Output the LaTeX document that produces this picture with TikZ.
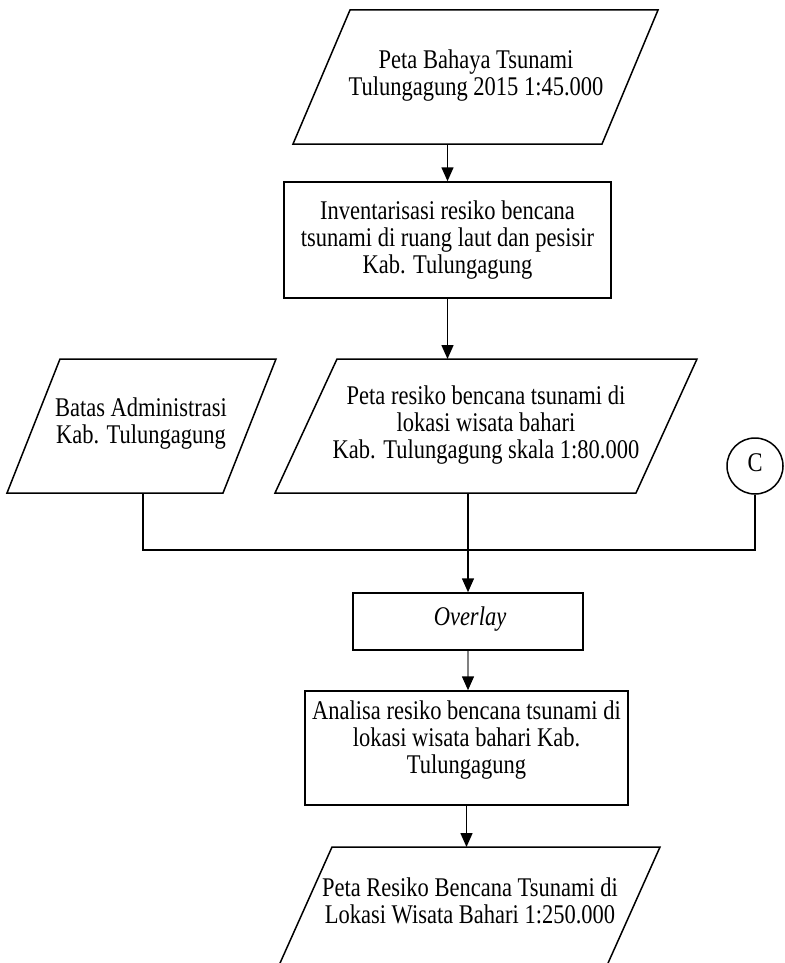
\documentclass[tikz,border=0pt]{standalone}
\usepackage{fontspec}
\usepackage{graphicx}
\setmainfont{Liberation Serif}
\usetikzlibrary{arrows.meta}
\newcommand{\stretchtext}[1]{\scalebox{1}[1.2]{\begin{tabular}{@{}c@{}}#1\end{tabular}}}
\begin{document}
\begin{tikzpicture}[x=1pt,y=-1pt,
  every node/.style={font=\fontsize{22.5}{22.5}\selectfont, align=center, inner sep=0pt},
  shapeline/.style={draw=black, line width=1.5pt, line join=miter},
  boxnode/.style={draw=black, line width=1.5pt, rectangle},
  conn/.style={draw=black, line width=1.5pt},
  arr/.style={conn, -{Triangle[length=14pt,width=12pt,color=black]}},
]
\fill[white] (0,0) rectangle (784,963);
\useasboundingbox (0,0) rectangle (784,963);

% top input
\draw[shapeline] (350,10) -- (658,10) -- (602,144) -- (293,144) -- cycle;
\node (tx1) at (476,77) {\stretchtext{Peta Bahaya Tsunami\\Tulungagung 2015 1:45.000}};
\coordinate (p1b) at (447.5,144);

% inventarisasi
\node[boxnode, minimum width=327pt, minimum height=116pt] (inv) at (447.5,240) {};
\node (tx2) at (447.5,241) {\stretchtext{Inventarisasi resiko bencana\\tsunami di ruang laut dan pesisir\\Kab. Tulungagung}};
\draw[arr] (p1b) -- (inv.north);

% peta resiko
\draw[shapeline] (337,359) -- (697,359) -- (636,493) -- (275,493) -- cycle;
\node (tx3) at (486,426) {\stretchtext{Peta resiko bencana tsunami di\\lokasi wisata bahari\\Kab. Tulungagung skala 1:80.000}};
\coordinate (p3t) at (447.5,359);
\coordinate (p3b) at (468,493);
\draw[arr] (inv.south) -- (p3t);

% batas administrasi
\draw[shapeline] (60,359) -- (276,359) -- (223,493) -- (7,493) -- cycle;
\node (tx4) at (141,425) {\stretchtext{Batas Administrasi\\Kab. Tulungagung}};
\coordinate (p4b) at (143,493);

% connector C
\node[circle, draw=black, line width=1.5pt, minimum size=56pt] (cc) at (755,466) {\stretchtext{C}};

\coordinate (jl) at (143,550);
\coordinate (jr) at (755,550);
\draw[conn] (p4b) -- (jl) -- (jr) -- (cc.south);

% overlay
\node[boxnode, minimum width=230pt, minimum height=57pt] (ov) at (468,621.5) {};
\node (tx6) at (470,620) {\stretchtext{\itshape Overlay}};
\draw[arr] (p3b) -- (ov.north);

% analisa
\node[boxnode, minimum width=323pt, minimum height=114pt] (an) at (466.5,748) {};
\node (tx7) at (466.5,741) {\stretchtext{Analisa resiko bencana tsunami di\\lokasi wisata bahari Kab.\\Tulungagung}};
\draw[arr, draw=gray] (ov.south) -- (ov.south |- an.north);

% output
\coordinate (p5t) at (466.5,847);
\draw[arr] (an.south) -- (p5t);
\begin{scope}
  \clip (0,0) rectangle (784,963);
  \draw[shapeline] (332,847) -- (660,847) -- (600,981) -- (272,981) -- cycle;
\end{scope}
\node (tx5) at (470,905) {\stretchtext{Peta Resiko Bencana Tsunami di\\Lokasi Wisata Bahari 1:250.000}};
\end{tikzpicture}
\end{document}
